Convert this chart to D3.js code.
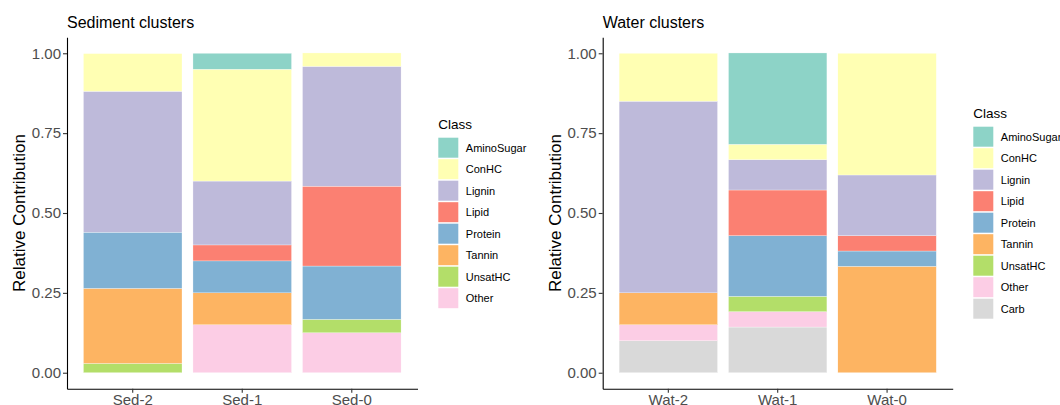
<!DOCTYPE html>
<html>
<head>
<meta charset="utf-8">
<script src="https://cdn.jsdelivr.net/npm/d3@7"></script>
<style>
  html, body { margin: 0; padding: 0; background: #fff; }
  svg { display: block; font-family: "Liberation Sans", Arial, Helvetica, sans-serif; }
</style>
</head>
<body>
<svg id="chart" width="1060" height="405"></svg>
<script>
// Compound classes, listed top of stack first
const sedimentClasses = ["AminoSugar", "ConHC", "Lignin", "Lipid", "Protein", "Tannin", "UnsatHC", "Other"];
const waterClasses = ["AminoSugar", "ConHC", "Lignin", "Lipid", "Protein", "Tannin", "UnsatHC", "Other", "Carb"];

const sedimentClusters = ["Sed-2", "Sed-1", "Sed-0"];
const waterClusters = ["Wat-2", "Wat-1", "Wat-0"];

// Relative contribution per cluster, in the class order above
const sed2 = [0, 0.118, 0.441, 0, 0.176, 0.235, 0.029, 0];
const sed1 = [0.05, 0.35, 0.20, 0.05, 0.10, 0.10, 0, 0.15];
const sed0 = [0, 0.042, 0.375, 0.25, 0.167, 0, 0.042, 0.125];

const wat2 = [0, 0.15, 0.60, 0, 0, 0.10, 0, 0.05, 0.10];
const wat1 = [0.286, 0.048, 0.095, 0.143, 0.190, 0, 0.048, 0.048, 0.143];
const wat0 = [0, 0.381, 0.190, 0.048, 0.048, 0.333, 0, 0, 0];

const yTicks = [0, 0.25, 0.5, 0.75, 1];

const classColors = {
  AminoSugar: "#8DD3C7", ConHC: "#FFFFB3", Lignin: "#BEBADA", Lipid: "#FB8072",
  Protein: "#80B1D3", Tannin: "#FDB462", UnsatHC: "#B3DE69", Other: "#FCCDE5", Carb: "#D9D9D9"
};

const svg = d3.select("#chart");

function drawPanel(opt) {
  const g = svg.append("g");
  const rows = opt.clusters.map((c, i) => {
    const row = { cluster: c };
    opt.classes.forEach((k, j) => { row[k] = opt.values[i][j]; });
    return row;
  });

  const x = d3.scaleBand().domain(opt.clusters)
    .range([opt.left, opt.right]).paddingInner(0.1).paddingOuter(0.15);
  const y = d3.scaleLinear().domain([-0.05, 1.05]).range([388.7, 37.3]);

  // last class sits at the bottom of each bar
  const stack = d3.stack().keys(opt.classes.slice().reverse());
  const layers = stack(rows);

  g.selectAll("g.layer").data(layers).join("g")
    .attr("class", "layer")
    .attr("fill", d => classColors[d.key])
    .selectAll("rect").data(d => d.filter(p => p[1] - p[0] > 0)).join("rect")
      .attr("x", d => x(d.data.cluster))
      .attr("width", x.bandwidth())
      .attr("y", d => y(d[1]))
      .attr("height", d => y(d[0]) - y(d[1]))
      .attr("stroke", "#ffffff")
      .attr("stroke-width", 0.3);

  // y axis
  const ya = g.append("g").attr("transform", `translate(${opt.left},0)`)
    .call(d3.axisLeft(y).tickValues(yTicks).tickFormat(d3.format(".2f"))
      .tickSize(4).tickSizeOuter(0).tickPadding(2));
  ya.select(".domain").attr("stroke", "#000").attr("stroke-width", 1.1);
  ya.selectAll(".tick line").attr("stroke", "#333").attr("stroke-width", 1.1);
  ya.selectAll(".tick text").attr("fill", "#4D4D4D").attr("font-size", 15)
    .attr("font-family", "Liberation Sans, Arial, sans-serif");

  // x axis
  const xa = g.append("g").attr("transform", `translate(0,${y(-0.05)})`)
    .call(d3.axisBottom(x).tickSize(4).tickSizeOuter(0).tickPadding(2));
  xa.select(".domain").attr("stroke", "#000").attr("stroke-width", 1.1);
  xa.selectAll(".tick line").attr("stroke", "#333").attr("stroke-width", 1.1);
  xa.selectAll(".tick text").attr("fill", "#4D4D4D").attr("font-size", 15)
    .attr("font-family", "Liberation Sans, Arial, sans-serif");

  // titles
  g.append("text").attr("x", opt.left).attr("y", 27.5)
    .attr("font-size", 16).attr("fill", "#000").text(opt.title);
  g.append("text")
    .attr("transform", `translate(${opt.left - 48},${(y(0) + y(1)) / 2}) rotate(-90)`)
    .attr("text-anchor", "middle").attr("dy", "0.35em")
    .attr("font-size", 17).attr("fill", "#000").text("Relative Contribution");

  // legend
  const lg = g.append("g").attr("transform", `translate(${opt.legendX},${opt.legendY})`);
  lg.append("text").attr("x", 0).attr("y", 5).attr("font-size", 13.5).attr("fill", "#000").text("Class");
  const items = lg.selectAll("g.item").data(opt.classes).join("g")
    .attr("class", "item")
    .attr("transform", (d, i) => `translate(0,${23.5 + i * 21.5})`);
  items.append("rect").attr("x", 0).attr("y", -10).attr("width", 20).attr("height", 20)
    .attr("fill", d => classColors[d]);
  items.append("text").attr("x", 27.5).attr("dy", "0.35em")
    .attr("font-size", 11).attr("fill", "#000").text(d => d);
}

drawPanel({
  title: "Sediment clusters", clusters: sedimentClusters, classes: sedimentClasses,
  values: [sed2, sed1, sed0], left: 67, right: 417.5, legendX: 438.3, legendY: 124.2
});
drawPanel({
  title: "Water clusters", clusters: waterClusters, classes: waterClasses,
  values: [wat2, wat1, wat0], left: 602.7, right: 952.7, legendX: 973.3, legendY: 113.2
});
</script>
</body>
</html>
